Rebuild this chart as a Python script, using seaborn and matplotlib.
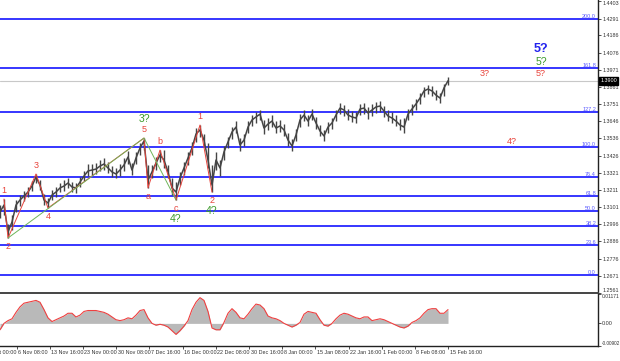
import numpy as np
import matplotlib
matplotlib.use("Agg")
import matplotlib.pyplot as plt
import seaborn as sns
from matplotlib.transforms import blended_transform_factory

# ---------------- data ----------------
close = [1.3072, 1.3116, 1.2946, 1.3009, 1.3116, 1.3148, 1.3173, 1.3198, 1.3236, 1.3293,
         1.3242, 1.3148, 1.3129, 1.3179, 1.3198, 1.3224, 1.3236, 1.3255, 1.3230, 1.3224,
         1.3261, 1.3299, 1.3331, 1.3337, 1.3343, 1.3362, 1.3375, 1.3350, 1.3325, 1.3312,
         1.3337, 1.3369, 1.3419, 1.3337, 1.3413, 1.3476, 1.3520, 1.3274, 1.3325, 1.3381,
         1.3432, 1.3400, 1.3325, 1.3224, 1.3198, 1.3287, 1.3350, 1.3413, 1.3476, 1.3564,
         1.3590, 1.3526, 1.3400, 1.3242, 1.3400, 1.3350, 1.3451, 1.3514, 1.3577, 1.3608,
         1.3495, 1.3526, 1.3608, 1.3653, 1.3672, 1.3690, 1.3602, 1.3627, 1.3646, 1.3602,
         1.3615, 1.3590, 1.3526, 1.3489, 1.3558, 1.3653, 1.3684, 1.3646, 1.3690, 1.3634,
         1.3583, 1.3552, 1.3608, 1.3634, 1.3684, 1.3728, 1.3716, 1.3684, 1.3672, 1.3665,
         1.3722, 1.3728, 1.3697, 1.3716, 1.3735, 1.3741, 1.3709, 1.3678, 1.3665, 1.3646,
         1.3621, 1.3608, 1.3690, 1.3722, 1.3754, 1.3791, 1.3836, 1.3848, 1.3836, 1.3810,
         1.3791, 1.3855, 1.3900]
high = [1.3116, 1.3154, 1.2996, 1.3053, 1.3148, 1.3179, 1.3205, 1.3230, 1.3268, 1.3312,
        1.3274, 1.3186, 1.3160, 1.3211, 1.3230, 1.3255, 1.3274, 1.3287, 1.3261, 1.3255,
        1.3293, 1.3331, 1.3375, 1.3375, 1.3381, 1.3400, 1.3413, 1.3388, 1.3362, 1.3350,
        1.3375, 1.3413, 1.3457, 1.3381, 1.3451, 1.3508, 1.3539, 1.3369, 1.3369, 1.3419,
        1.3463, 1.3463, 1.3369, 1.3287, 1.3261, 1.3325, 1.3388, 1.3451, 1.3514, 1.3602,
        1.3621, 1.3564, 1.3508, 1.3369, 1.3451, 1.3400, 1.3489, 1.3545, 1.3608, 1.3646,
        1.3539, 1.3564, 1.3646, 1.3684, 1.3703, 1.3716, 1.3653, 1.3665, 1.3684, 1.3646,
        1.3653, 1.3627, 1.3571, 1.3533, 1.3596, 1.3690, 1.3716, 1.3684, 1.3722, 1.3672,
        1.3621, 1.3590, 1.3640, 1.3665, 1.3716, 1.3760, 1.3747, 1.3722, 1.3709, 1.3703,
        1.3754, 1.3760, 1.3735, 1.3754, 1.3766, 1.3773, 1.3741, 1.3716, 1.3703, 1.3684,
        1.3659, 1.3665, 1.3722, 1.3754, 1.3785, 1.3823, 1.3861, 1.3873, 1.3867, 1.3842,
        1.3823, 1.3880, 1.3924]
low = [1.3034, 1.3053, 1.2908, 1.2959, 1.3072, 1.3110, 1.3142, 1.3167, 1.3205, 1.3255,
       1.3211, 1.3116, 1.3097, 1.3148, 1.3167, 1.3198, 1.3205, 1.3224, 1.3198, 1.3192,
       1.3230, 1.3268, 1.3299, 1.3306, 1.3312, 1.3331, 1.3337, 1.3318, 1.3293, 1.3287,
       1.3299, 1.3331, 1.3375, 1.3306, 1.3375, 1.3432, 1.3463, 1.3224, 1.3287, 1.3337,
       1.3388, 1.3350, 1.3287, 1.3179, 1.3148, 1.3242, 1.3306, 1.3369, 1.3432, 1.3514,
       1.3545, 1.3489, 1.3350, 1.3198, 1.3337, 1.3299, 1.3400, 1.3476, 1.3533, 1.3571,
       1.3457, 1.3489, 1.3571, 1.3615, 1.3634, 1.3653, 1.3564, 1.3590, 1.3608, 1.3571,
       1.3577, 1.3552, 1.3489, 1.3457, 1.3520, 1.3608, 1.3646, 1.3615, 1.3653, 1.3596,
       1.3552, 1.3520, 1.3571, 1.3596, 1.3646, 1.3690, 1.3678, 1.3653, 1.3640, 1.3634,
       1.3684, 1.3690, 1.3659, 1.3678, 1.3697, 1.3703, 1.3672, 1.3646, 1.3634, 1.3615,
       1.3590, 1.3571, 1.3653, 1.3684, 1.3716, 1.3754, 1.3798, 1.3817, 1.3804, 1.3779,
       1.3760, 1.3804, 1.3873]
osc = [-0.00256, 0.0, 0.00110, 0.00183, 0.00439, 0.00659, 0.00805, 0.00842, 0.00878, 0.00915,
       0.00842, 0.00549, 0.00220, 0.00073, 0.00146, 0.00220, 0.00293, 0.00403, 0.00403, 0.00256,
       0.00329, 0.00476, 0.00512, 0.00512, 0.00512, 0.00476, 0.00439, 0.00366, 0.00256, 0.00146,
       0.00110, 0.00146, 0.00220, 0.00183, 0.00329, 0.00512, 0.00549, 0.00220, 0.0, -0.00073,
       -0.00037, -0.00073, -0.00146, -0.00293, -0.00439, -0.00293, -0.00110, 0.00110, 0.00549, 0.00842,
       0.01025, 0.00915, 0.00476, -0.00183, -0.00256, -0.00256, 0.00037, 0.00403, 0.00586, 0.00439,
       0.00220, 0.00183, 0.00366, 0.00586, 0.00769, 0.00732, 0.00586, 0.00293, 0.00220, 0.00183,
       0.00110, 0.0, -0.00073, -0.00146, -0.00073, 0.00037, 0.00366, 0.00476, 0.00439, 0.00403,
       0.00146, -0.00073, -0.00110, 0.0, 0.00183, 0.00329, 0.00403, 0.00366, 0.00293, 0.00220,
       0.00183, 0.00256, 0.00256, 0.00110, 0.00146, 0.00183, 0.00146, 0.00073, 0.0, -0.00073,
       -0.00146, -0.00183, -0.00110, 0.00037, 0.00110, 0.00220, 0.00403, 0.00549, 0.00586, 0.00586,
       0.00403, 0.00403, 0.00549]

fib_levels = [1.2675, 1.2865, 1.2983, 1.3079, 1.3174, 1.3292, 1.3482, 1.3701, 1.3981, 1.4289]
fib_names = ["0.0", "23.6", "38.2", "50.0", "61.8", "76.4", "100.0", "127.2", "161.8", "200.0"]
price_ticks = [1.4403, 1.4291, 1.4186, 1.4076, 1.3971, 1.3861, 1.3751, 1.3646, 1.3536,
               1.3426, 1.3321, 1.3211, 1.3101, 1.2996, 1.2886, 1.2776, 1.2671, 1.2561]
last_price = 1.3900
osc_ticks = [0.01171, 0.0, -0.00902]
osc_tick_labels = ["0.01171", "0.00", "-0.00902"]
date_labels = ["30 Oct 00:00", "6 Nov 08:00", "13 Nov 16:00", "23 Nov 00:00", "30 Nov 08:00",
               "7 Dec 16:00", "16 Dec 00:00", "22 Dec 08:00", "30 Dec 16:00", "8 Jan 00:00",
               "15 Jan 08:00", "22 Jan 16:00", "1 Feb 00:00", "8 Feb 08:00", "15 Feb 16:00"]

# wave pivots: sample index, label, use high (True) or low
wave_idx = [1, 2, 9, 12, 36, 37, 40, 44, 50, 53]
wave_text = ["1", "2", "3", "4", "5", "a", "b", "c", "1", "2"]
wave_top = [True, False, True, False, True, False, True, False, True, False]
alt_idx = [2, 36, 44]          # green alternative count
green_labels = [(36, "3?", True), (44, "4?", False), (53, "4?", False)]
# forecast labels (bar position, price)
fc_x = [485, 512, 541, 541, 541]
fc_price = [1.3949, 1.3514, 1.3949, 1.4019, 1.4101]
fc_text = ["3?", "4?", "5?", "5?", "5?"]

# ---------------- style ----------------
sns.set_theme(style="white")
plt.rcParams["font.family"] = ["Liberation Sans", "DejaVu Sans"]

STEP = 4
TICK0, TICKSTEP = -16.6, 33.2
RED, GREEN, BLUE = "#e8443c", "#3c9a2a", "#2222ee"
FIBC = "#1414ff"
LABSIZE = 3.9

W, H = 620, 361
fig = plt.figure(figsize=(W / 100, H / 100), dpi=100)
ax1 = fig.add_axes([0, 1 - 293 / H, 598 / W, 293 / H])
ax2 = fig.add_axes([0, 1 - 346 / H, 598 / W, 52 / H])

x = np.arange(len(close)) * STEP

# ---------------- price panel ----------------
ax1.set_xlim(0, 598)
ax1.set_ylim(1.2561, 1.4410)

ax1.axhline(last_price, color="#c8c8c8", lw=0.8, zorder=1)
for lvl, nm in zip(fib_levels, fib_names):
    ax1.axhline(lvl, color=FIBC, lw=1.2, zorder=2)
    ax1.text(596, lvl, nm, ha="right", va="bottom", fontsize=4.0, color="#5a5aff", zorder=3)

ax1.vlines(x, low, high, color="#454545", lw=1.0, zorder=4)
sns.lineplot(x=x, y=close, ax=ax1, color="#454545", lw=1.1, zorder=4)

# wave lines
wx = [x[i] for i in wave_idx]
wp = [high[i] if t else low[i] for i, t in zip(wave_idx, wave_top)]
ax1.plot(wx, wp, color=RED, lw=0.7, zorder=5)
gx = [x[i] for i in alt_idx]
gp = [low[2], high[36], low[44]]
ax1.plot(gx, gp, color="#6fb55a", lw=0.7, zorder=5)

for i, t, top in zip(wave_idx, wave_text, wave_top):
    p = high[i] if top else low[i]
    ax1.annotate(t, (x[i], p), xytext=(0, 3 if top else -3), textcoords="offset points",
                 ha="center", va="bottom" if top else "top", fontsize=6.5, color=RED, zorder=6)
for i, t, top in green_labels:
    p = high[i] if top else low[i]
    ax1.annotate(t, (x[i], p), xytext=(0, 10 if top else -10), textcoords="offset points",
                 ha="center", va="bottom" if top else "top", fontsize=7.5, color=GREEN, zorder=6)

fc_colors = [RED, RED, RED, GREEN, BLUE]
fc_sizes = [6.5, 6.5, 6.5, 7.5, 9]
for xx, pp, t, c, s in zip(fc_x, fc_price, fc_text, fc_colors, fc_sizes):
    ax1.text(xx, pp, t, ha="center", va="center", fontsize=s, color=c,
             fontweight="bold" if c == BLUE else "normal", zorder=6)

ax1.yaxis.tick_right()
ax1.set_yticks(price_ticks)
ax1.set_yticklabels([f"{v:.4f}" for v in price_ticks])
ax1.tick_params(axis="y", right=True, length=2, width=0.6, pad=1.0, labelsize=LABSIZE,
                colors="#333333")
ax1.tick_params(axis="x", bottom=False, labelbottom=False)
ax1.get_yticklabels()[-1].set_va("bottom")
ax1.get_yticklabels()[0].set_va("top")
for s in ["left", "top"]:
    ax1.spines[s].set_visible(False)
ax1.spines["right"].set_color("#222222")
ax1.spines["right"].set_linewidth(1.0)
ax1.spines["bottom"].set_color("#444444")
ax1.spines["bottom"].set_linewidth(1.4)
ax1.set_xlabel("")
ax1.set_ylabel("")
tr = blended_transform_factory(ax1.transAxes, ax1.transData)
ax1.text(1.004, last_price, f"{last_price:.4f}", transform=tr, ha="left", va="center",
         fontsize=LABSIZE, color="white", clip_on=False, zorder=10,
         bbox=dict(boxstyle="square,pad=0.25", fc="black", ec="black"))

# ---------------- oscillator panel ----------------
ax2.set_xlim(0, 598)
ax2.set_ylim(osc_ticks[2], osc_ticks[0])
ax2.fill_between(x, 0, osc, color="#b9b9b9", lw=0, zorder=2)
sns.lineplot(x=x, y=osc, ax=ax2, color="#ee4040", lw=0.8, zorder=3)
ax2.yaxis.tick_right()
ax2.set_yticks(osc_ticks)
ax2.set_yticklabels(osc_tick_labels)
ax2.tick_params(axis="y", right=True, length=2, width=0.6, pad=0.8, labelsize=LABSIZE,
                colors="#333333")
ax2.get_yticklabels()[0].set_va("top")
ax2.get_yticklabels()[-1].set_va("bottom")
ax2.get_yticklabels()[-1].set_fontsize(3.4)
ax2.get_yticklabels()[0].set_fontsize(3.6)
for s in ["left", "top"]:
    ax2.spines[s].set_visible(False)
for s in ["right", "bottom"]:
    ax2.spines[s].set_color("#222222")
    ax2.spines[s].set_linewidth(1.0)
ax2.set_xlabel("")
ax2.set_ylabel("")

tick_pos = [TICK0 + TICKSTEP * i for i in range(len(date_labels))]
ax2.set_xticks([p for p in tick_pos if 0 <= p <= 598])
ax2.set_xticklabels([])
ax2.tick_params(axis="x", bottom=True, length=2.5, width=0.6, colors="#333333")
trx = blended_transform_factory(ax2.transData, ax2.transAxes)
for p, lab in zip(tick_pos, date_labels):
    ax2.text(p + 1.5, -0.07, lab, transform=trx, ha="left", va="top", fontsize=LABSIZE,
             color="#333333", clip_on=False)

fig.savefig("out.png", dpi=100, facecolor="white")
